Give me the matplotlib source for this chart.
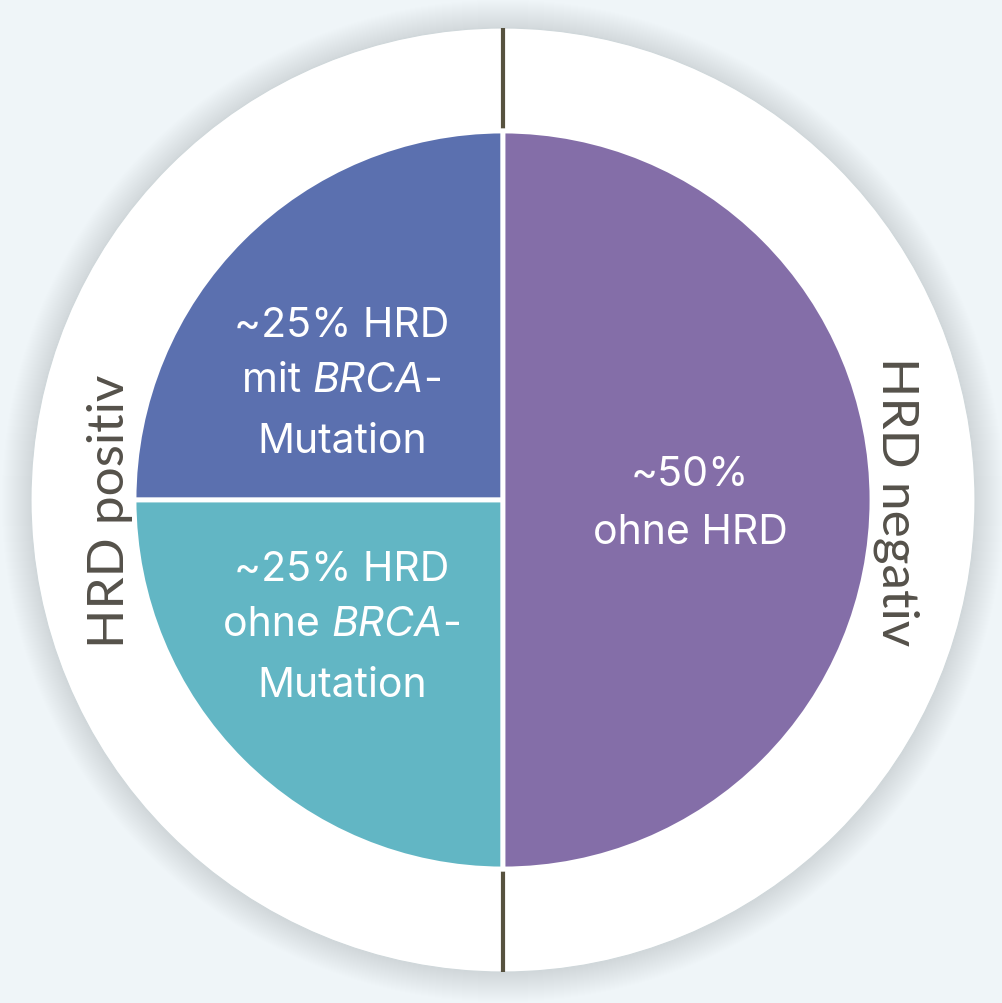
import numpy as np
import matplotlib.pyplot as plt
from matplotlib.patches import Circle
from matplotlib.offsetbox import TextArea, HPacker, AnnotationBbox

# data
shares = [25, 25, 50]
colors = ['#5b70af', '#62b6c4', '#846ea8']
ring_labels = ['HRD positiv', 'HRD negativ']
blue_lines = ['~25% HRD', ('mit ', 'BRCA', '-'), 'Mutation']
teal_lines = ['~25% HRD', ('ohne ', 'BRCA', '-'), 'Mutation']
purple_lines = ['~50%', 'ohne HRD']

W, H = 1002, 1004
fig = plt.figure(figsize=(W / 100, H / 100), dpi=100)
fig.patch.set_facecolor('#eff5f8')
ax = fig.add_axes([0, 0, 1, 1])
ax.set_facecolor('#eff5f8')

cx, cy = 503, H - 501
r_out, r_in = 472, 369

# soft shadow around outer disc
for k in range(1, 30):
    ax.add_patch(Circle((cx, cy - 1), r_out + k, fc='#b8c9cf', ec='none',
                        alpha=0.009, zorder=0))
ax.add_patch(Circle((cx, cy), r_out, fc='white', ec='#cfd7da', lw=0.8, zorder=1))

ax.plot([cx, cx], [cy - r_out, cy + r_out], color='#57523f', lw=3,
        solid_capstyle='butt', zorder=2)

ax.pie(shares, colors=colors, startangle=90, counterclock=True,
       center=(cx, cy), radius=r_in,
       wedgeprops=dict(edgecolor='white', linewidth=3.5, zorder=3))

txt_font = 'Inter'
fs = 29.5
tcol = 'white'


def label_lines(lines, x, y0, dy):
    for i, ln in enumerate(lines):
        y = H - (y0 + i * dy)
        if isinstance(ln, str):
            ax.text(x, y, ln, ha='center', va='center', color=tcol,
                    fontsize=fs, family=txt_font, zorder=5)
        else:
            parts = [TextArea(ln[0], textprops=dict(color=tcol, fontsize=fs, family=txt_font)),
                     TextArea(ln[1], textprops=dict(color=tcol, fontsize=fs, family=txt_font,
                                                    style='italic')),
                     TextArea(ln[2], textprops=dict(color=tcol, fontsize=fs, family=txt_font))]
            box = HPacker(children=parts, align='baseline', pad=0, sep=0)
            ab = AnnotationBbox(box, (x, y), frameon=False, pad=0,
                                box_alignment=(0.5, 0.42), zorder=5)
            ax.add_artist(ab)


label_lines(blue_lines, 342, 326, 58)
label_lines(teal_lines, 342, 570, 58)
label_lines(purple_lines, 690, 475, 58)

ring_font = 'Lato'
ax.text(110, H - 511, ring_labels[0], rotation=90, ha='center', va='center',
        color='#55514a', fontsize=37, family=ring_font, zorder=5)
ax.text(896, H - 502, ring_labels[1], rotation=-90, ha='center', va='center',
        color='#55514a', fontsize=37, family=ring_font, zorder=5)

ax.set_xlim(0, W)
ax.set_ylim(0, H)
ax.set_aspect('auto')
ax.axis('off')

fig.savefig('out.png', dpi=100, facecolor=fig.get_facecolor())
